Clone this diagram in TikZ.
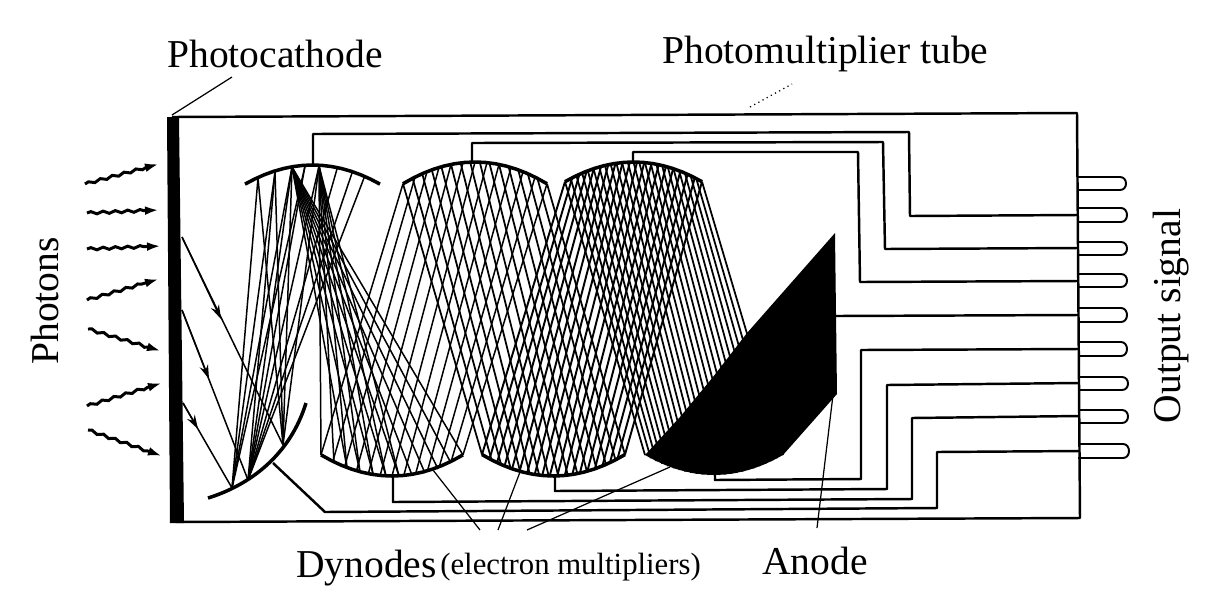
\documentclass[tikz,border=0pt]{standalone}
\usepackage{fontspec}
\setmainfont{Liberation Serif}
\usetikzlibrary{arrows.meta,decorations.pathmorphing}

\newcommand{\rayfan}[8]{%
  \foreach \i in {0,...,#7}{%
    \pgfmathsetmacro\xa{#1+(#2-#1)*\i/#7}%
    \pgfmathsetmacro\xb{#3+(#4-#3)*\i/#7}%
    \draw[ray, line width=#8] (\xa,{#5+0.0042*(\xa-(#1+#2)/2)^2}) -- (\xb,{#6-0.0042*(\xb-(#3+#4)/2)^2});
  }%
}

\begin{document}
\begin{tikzpicture}[
  x=0.02cm, y=-0.02cm,
  label/.style={font=\fontsize{22.5}{26}\selectfont, inner sep=0pt},
  small/.style={font=\fontsize{17.5}{20}\selectfont, inner sep=0pt},
  tube/.style={line width=1.4pt, line join=round},
  wire/.style={line width=1.4pt, line join=round},
  pinline/.style={line width=1.1pt},
  ray/.style={line width=0.85pt},
  dynode/.style={line width=2pt},
  leader/.style={line width=0.7pt},
  photon/.style={line width=1.7pt, -{Latex[length=8pt,width=5pt]}, decorate,
    decoration={snake, amplitude=0.7pt, segment length=7pt, post length=7pt}}
]
\useasboundingbox (0,0) rectangle (1232,600);

\node[label, anchor=base west] (cathodetext) at (167,67) {Photocathode};
\node[label, anchor=base west] (tubetext) at (662,63) {Photomultiplier tube};
\node[label, anchor=base west] (dynodetext) at (296,577) {Dynodes};
\node[small, anchor=base west] (electrontext) at (440,574) {(electron multipliers)};
\node[label, anchor=base west] (anodetext) at (762,574) {Anode};
\node[label, anchor=base, rotate=90] (photontext) at (58,301) {Photons};
\node[label, anchor=base, rotate=90] (outputtext) at (1180,316) {Output signal};

\draw[tube] (172,117) -- (1077,113) -- (1080,518) -- (176,522);
\fill (167,117) -- (179,117) -- (184,523) -- (170,523) -- cycle;

\foreach \a/\b/\c/\d in {85/184/159/164, 87/213/159/210, 87/249/161/246, 87/300/159/279,
    88/329/161/351, 87/406/162/383, 88/430/162/456}
  \draw[photon] (\a,\b) -- (\c,\d);

\foreach \y/\h/\e in {177/13/1128, 208/14/1129, 242/13/1129, 274/13/1129, 308/14/1129,
    342/14/1129, 377/13/1130, 410/13/1130, 444/14/1131}
  \draw[pinline] (1078,\y) -- (\e-8,\y) .. controls (\e,\y) and (\e,\y+\h) .. (\e-8,\y+\h) -- (1078,\y+\h);

\coordinate (focusA) at (232,488);
\coordinate (focusB) at (248,480);
\coordinate (focusC) at (283,445);
\coordinate (focusD) at (292,167);
\coordinate (focusE) at (319,166);
\foreach \x/\y in {258/178, 275/172, 292/167, 305/166} \draw[ray] (focusA) -- (\x,\y);
\foreach \x/\y in {275/172, 292/167, 305/166, 319/166, 337/169, 352/173, 364/178} \draw[ray] (focusB) -- (\x,\y);
\foreach \x/\y in {258/178, 275/172, 292/167, 319/166} \draw[ray] (focusC) -- (\x,\y);
\foreach \x/\y in {321/455, 334/463, 347/468, 360/472, 373/474, 386/476, 399/476} \draw[ray] (focusE) -- (\x,\y);
\foreach \x/\y in {347/468, 360/472, 373/474, 386/476, 399/476, 412/475, 425/473, 438/469, 451/463, 463/455} \draw[ray] (focusD) -- (\x,\y);

\coordinate (startA) at (182,237);
\coordinate (startB) at (182,310);
\coordinate (startC) at (183,403);
\coordinate (tipA) at (221,319);
\coordinate (tipB) at (209,379);
\coordinate (tipC) at (198,429);
\draw[ray] (startA) -- (focusC);
\draw[ray] (startB) -- (focusB);
\draw[ray] (startC) -- (focusA);
\draw[ray, -{Stealth[length=8pt,width=5pt]}] (startA) -- (tipA);
\draw[ray, -{Stealth[length=8pt,width=5pt]}] (startB) -- (tipB);
\draw[ray, -{Stealth[length=8pt,width=5pt]}] (startC) -- (tipC);

\rayfan{403}{547}{321}{463}{162}{476}{12}{0.85pt}
\rayfan{403}{547}{482}{625}{162}{476}{15}{1pt}
\rayfan{565}{702}{482}{625}{162}{476}{19}{1.1pt}
\rayfan{565}{702}{645}{783}{162}{475}{24}{1pt}

\draw[dynode] (208,498) .. controls (250,485) and (290,455) .. (306,403);
\draw[dynode] plot[domain=245:380, samples=15] (\x,{165+0.0042*(\x-312.5)^2});
\draw[dynode] plot[domain=321:463, samples=15] (\x,{476-0.0042*(\x-392)^2});
\draw[dynode] plot[domain=403:547, samples=15] (\x,{162+0.0042*(\x-475)^2});
\draw[dynode] plot[domain=482:625, samples=15] (\x,{476-0.0042*(\x-553.5)^2});
\draw[dynode] plot[domain=565:702, samples=15] (\x,{162+0.0042*(\x-633.5)^2});

\fill (835,233) -- (837,394) -- (783,455)
  -- plot[domain=783:645, samples=15] (\x,{475-0.0042*(\x-714)^2})
  -- (680,417) -- (713,377) -- (747,333) -- cycle;

\coordinate (dynA) at (313,165);
\coordinate (dynB) at (273,463);
\coordinate (dynC) at (472,162);
\coordinate (dynD) at (393,476);
\coordinate (dynE) at (633,162);
\coordinate (dynF) at (555,476);
\coordinate (dynG) at (715,475);
\coordinate (anodept) at (836,316);
\coordinate (pinB) at (1077,215);
\coordinate (pinC) at (1078,248);
\coordinate (pinD) at (1078,281);
\coordinate (pinE) at (1078,315);
\coordinate (pinF) at (1078,349);
\coordinate (pinG) at (1079,383);
\coordinate (pinH) at (1079,416);
\coordinate (pinI) at (1079,451);
\draw[wire] (dynA) -- (313,134) -- (909,132) -- (910,216) -- (pinB);
\draw[wire] (dynC) -- (472,143) -- (883,142) -- (885,249) -- (pinC);
\draw[wire] (dynE) -- (633,152) -- (858,152) -- (860,282) -- (pinD);
\draw[wire] (anodept) -- (pinE);
\draw[wire] (dynG) -- (715,480) -- (861,479) -- (861,350) -- (pinF);
\draw[wire] (dynF) -- (555,491) -- (887,489) -- (887,385) -- (pinG);
\draw[wire] (dynD) -- (393,502) -- (912,499) -- (912,418) -- (pinH);
\draw[wire] (dynB) -- (325,512) -- (937,508) -- (937,452) -- (pinI);

\coordinate (cathodeend) at (172,115);
\coordinate (cathodetop) at (232,77);
\coordinate (tubeend) at (750,107);
\coordinate (tubetop) at (792,84);
\coordinate (leadA) at (433,470);
\coordinate (leadB) at (520,472);
\coordinate (leadC) at (670,467);
\coordinate (leadD) at (833,395);
\coordinate (feetA) at (480,530);
\coordinate (feetB) at (498,530);
\coordinate (feetC) at (527,530);
\coordinate (feetD) at (817,528);
\draw[leader] (cathodeend) -- (cathodetop);
\draw[leader, dotted] (tubeend) -- (tubetop);
\draw[leader] (leadA) -- (feetA);
\draw[leader] (leadB) -- (feetB);
\draw[leader] (leadC) -- (feetC);
\draw[leader] (leadD) -- (feetD);
\end{tikzpicture}
\end{document}
